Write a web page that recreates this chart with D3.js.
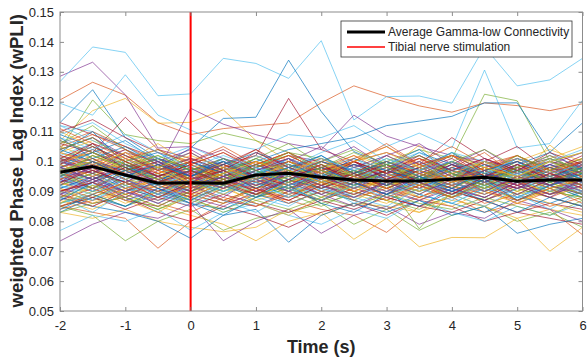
<!DOCTYPE html>
<html><head><meta charset="utf-8">
<script src="https://cdn.jsdelivr.net/npm/d3@7"></script>
<style>body{margin:0;background:#fff}svg{display:block}</style>
</head><body>
<svg id="chart" width="587" height="359"></svg>
<script>
// Time axis (seconds relative to stimulation)
const timeSec = [-2,-1.5,-1,-0.5,0,0.5,1,1.5,2,2.5,3,3.5,4,4.5,5,5.5,6];
const xTickValues = [-2,-1,0,1,2,3,4,5,6];
const xTickLabels = ["-2","-1","0","1","2","3","4","5","6"];
const yTickValues = [0.05,0.06,0.07,0.08,0.09,0.1,0.11,0.12,0.13,0.14,0.15];
const yTickLabels = ["0.05","0.06","0.07","0.08","0.09","0.1","0.11","0.12","0.13","0.14","0.15"];
const stimulationTime = 0;
const legendLabels = ["Average Gamma-low Connectivity","Tibial nerve stimulation"];

// Grand average across channel pairs
const averageWpli = [.0964,.0983,.0955,.0927,.0929,.0927,.0955,.0961,.0947,.0938,.0935,.0935,.0941,.0947,.0934,.0938,.0938];

// Per-pair wPLI time courses
const pairSet1 = [
 [.113,.124,.108,.101,.097,.099,.095,.101,.093,.096,.099,.094,.091,.097,.095,.092,.098],
 [.1206,.1265,.1222,.113,.109,.111,.112,.1129,.1196,.1253,.1217,.1186,.1165,.1196,.1187,.117,.1193],
 [.107,.117,.1211,.1128,.1131,.1173,.107,.1,.097,.099,.095,.098,.094,.097,.1,.104,.1],
 [.1285,.1332,.1223,.1045,.105,.101,.098,.102,.1,.096,.099,.094,.097,.095,.098,.093,.096],
 [.104,.1206,.109,.107,.106,.1095,.107,.103,.101,.098,.1,.104,.101,.1225,.1203,.1,.103],
 [.1267,.1383,.1365,.122,.1226,.1345,.1328,.1278,.1404,.1139,.1217,.1219,.1195,.1383,.1253,.1273,.1345],
 [.1,.103,.1148,.104,.101,.099,.102,.1211,.104,.1,.103,.099,.108,.101,.097,.1,.098],
 [.101,.099,.097,.098,.1045,.1144,.1148,.1339,.1167,.1033,.099,.096,.1,.095,.097,.094,.096],
 [.085,.083,.081,.071,.08,.086,.089,.087,.084,.082,.0763,.085,.088,.083,.086,.084,.0755],
 [.09,.087,.089,.085,.082,.079,.0735,.08,.083,.074,.081,.0715,.0746,.0745,.081,.07,.078],
 [.088,.085,.09,.097,.1178,.1125,.109,.106,.104,.1155,.1085,.105,.102,.1,.098,.101,.097],
 [.085,.082,.0735,.08,.084,.077,.081,.083,.086,.079,.084,.077,.082,.085,.08,.083,.078],
 [.1195,.1155,.129,.1155,.1105,.106,.104,.109,.108,.112,.105,.1095,.1045,.1306,.1045,.106,.1205],
 [.089,.086,.088,.083,.08,.085,.082,.078,.083,.086,.082,.087,.085,.08,.083,.081,.079]
];
const pairSet2 = [
 [.095,.097,.093,.096,.092,.098,.1,.104,.106,.108,.112,.1135,.1151,.1196,.1196,.1031,.1129],
 [.101,.097,.099,.094,.097,.092,.095,.098,.093,.097,.094,.099,.096,.092,.095,.098,.094],
 [.083,.081,.084,.08,.078,.0765,.078,.084,.082,.086,.085,.083,.087,.085,.081,.084,.082],
 [.0734,.079,.083,.081,.086,.0735,.08,.084,.076,.082,.085,.079,.083,.081,.087,.084,.08],
 [.097,.1,.095,.099,.093,.096,.091,.094,.098,.095,.09,.093,.097,.094,.099,.095,.092],
 [.0769,.082,.08,.084,.077,.083,.086,.082,.079,.084,.081,.087,.083,.08,.085,.082,.086],
 [.104,.108,.101,.097,.1,.095,.099,.103,.098,.096,.1,.097,.102,.099,.095,.098,.1],
 [.088,.085,.083,.08,.0743,.082,.084,.073,.082,.086,.083,.087,.082,.085,.076,.079,.081],
 [.093,.09,.094,.089,.092,.095,.09,.088,.093,.091,.095,.092,.089,.094,.091,.088,.092],
 [.098,.094,.097,.092,.095,.099,.094,.091,.096,.093,.097,.1055,.095,.098,.094,.1055,.097],
 [.091,.095,.089,.093,.096,.091,.094,.09,.087,.092,.089,.093,.09,.095,.092,.089,.093],
 [.086,.089,.085,.09,.087,.084,.088,.091,.086,.089,.093,.0775,.09,.087,.091,.088,.085],
 [.112,.11,.104,.1,.097,.101,.095,.098,.094,.099,.095,.093,.097,.094,.091,.096,.093],
 [.094,.098,.092,.095,.091,.096,.093,.09,.095,.092,.096,.094,.099,.093,.096,.092,.095]
];
const pairSet3 = [
 [.1,.104,.098,.094,.097,.092,.096,.099,.093,.097,.091,.095,.092,.097,.088,.093,.096],
 [.09,.093,.088,.092,.089,.094,.09,.087,.092,.089,.093,.09,.095,.091,.094,.089,.092],
 [.096,.1,.094,.091,.095,.098,.093,.096,.092,.095,.099,.094,.091,.096,.093,.098,.094],
 [.107,.103,.099,.095,.098,.094,.097,.101,.096,.099,.095,.098,.094,.1,.096,.093,.097],
 [.085,.088,.092,.087,.09,.093,.088,.091,.095,.09,.087,.091,.088,.093,.089,.092,.088],
 [.095,.091,.094,.098,.093,.089,.094,.097,.092,.088,.093,.09,.095,.092,.089,.094,.091],
 [.113,.109,.105,.101,.098,.095,.1,.097,.094,.098,.095,.092,.096,.099,.094,.097,.093],
 [.092,.096,.091,.088,.093,.09,.094,.091,.096,.093,.089,.094,.097,.092,.095,.091,.094],
 [.098,.102,.097,.1,.094,.097,.093,.096,.1,.095,.098,.093,.096,.092,.097,.095,.099],
 [.087,.084,.089,.093,.088,.091,.087,.09,.093,.089,.086,.091,.088,.092,.087,.09,.088],
 [.104,.108,.102,.098,.101,.096,.099,.095,.098,.094,.097,.1,.095,.098,.101,.096,.099],
 [.093,.097,.092,.096,.09,.094,.097,.093,.089,.094,.091,.095,.092,.088,.093,.097,.092],
 [.089,.092,.087,.09,.094,.089,.093,.088,.091,.087,.092,.089,.086,.091,.088,.092,.089],
 [.099,.095,.099,.096,.093,.098,.094,.097,.093,.096,.1,.096,.093,.097,.094,.099,.095]
];
const pairSet4 = [
 [.094,.09,.095,.092,.088,.093,.097,.092,.095,.091,.094,.09,.093,.089,.094,.092,.088],
 [.106,.11,.105,.1,.096,.099,.094,.098,.095,.1,.096,.093,.098,.095,.1,.096,.094],
 [.088,.091,.086,.09,.093,.087,.091,.095,.09,.087,.092,.088,.085,.09,.094,.089,.091],
 [.097,.094,.098,.093,.096,.1,.095,.092,.097,.094,.098,.095,.1,.096,.092,.097,.095],
 [.101,.105,.099,.095,.098,.094,.099,.102,.097,.094,.099,.096,.093,.098,.095,.1,.097],
 [.09,.087,.092,.088,.091,.095,.089,.093,.088,.092,.095,.091,.088,.093,.096,.09,.094],
 [.096,.093,.09,.095,.092,.097,.093,.095,.099,.094,.091,.096,.093,.097,.092,.095,.091],
 [.083,.088,.085,.089,.086,.084,.089,.086,.09,.087,.084,.089,.086,.083,.088,.086,.09],
 [.103,.1,.104,.097,.094,.098,.102,.097,.094,.099,.096,.101,.097,.094,.098,.1,.096],
 [.092,.095,.091,.094,.09,.093,.089,.092,.087,.091,.094,.088,.092,.095,.09,.093,.089],
 [.098,.096,.101,.095,.092,.097,.094,.099,.096,.092,.097,.094,.099,.096,.093,.097,.098],
 [.086,.09,.088,.084,.089,.086,.092,.089,.085,.09,.087,.084,.089,.092,.087,.091,.087],
 [.1,.098,.095,.099,.095,.1,.097,.093,.098,.101,.095,.099,.096,.091,.096,.094,.099],
 [.095,.099,.094,.09,.095,.092,.089,.094,.091,.095,.092,.097,.093,.09,.095,.091,.094]
];
const pairSet5 = [
 [.109,.105,.1,.103,.097,.093,.098,.095,.099,.093,.097,.094,.098,.095,.1,.094,.096],
 [.091,.088,.093,.09,.086,.091,.094,.089,.092,.096,.091,.088,.093,.09,.087,.092,.095],
 [.095,.099,.096,.093,.098,.095,.092,.097,.093,.09,.095,.099,.094,.097,.093,.09,.095],
 [.088,.094,.09,.087,.092,.088,.095,.091,.087,.093,.089,.093,.09,.087,.091,.094,.089],
 [.093,.096,.1,.094,.091,.097,.093,.09,.096,.092,.097,.093,.1,.094,.09,.095,.092],
 [.102,.106,.098,.101,.097,.1,.096,.099,.095,.098,.102,.097,.094,.099,.097,.093,.098],
 [.087,.091,.087,.085,.09,.087,.085,.09,.087,.091,.088,.085,.09,.087,.092,.088,.085],
 [.099,.103,.098,.095,.1,.096,.101,.096,.093,.097,.094,.098,.094,.099,.096,.1,.096],
 [.084,.087,.091,.086,.083,.088,.085,.089,.093,.087,.084,.088,.092,.086,.089,.085,.088],
 [.105,.101,.097,.1,.095,.098,.094,.1,.097,.102,.098,.095,.1,.097,.093,.098,.101],
 [.094,.091,.096,.093,.089,.094,.091,.096,.092,.089,.093,.097,.092,.095,.091,.094,.09],
 [.097,.101,.095,.098,.094,.092,.097,.094,.098,.093,.096,.092,.095,.1,.097,.093,.096],
 [.091,.094,.099,.092,.096,.09,.093,.098,.09,.094,.098,.091,.095,.093,.098,.092,.09],
 [.1,.096,.093,.098,.095,.1,.095,.092,.097,.1,.094,.097,.101,.095,.099,.096,.1]
];
const pairSet6 = [
 [.097,.1,.094,.098,.092,.095,.099,.094,.091,.096,.092,.097,.094,.091,.097,.093,.1],
 [.089,.085,.09,.094,.089,.086,.091,.088,.094,.09,.087,.092,.088,.091,.086,.09,.093],
 [.103,.107,.102,.098,.101,.097,.093,.098,.1,.096,.1,.097,.093,.097,.101,.096,.093],
 [.095,.091,.097,.093,.1,.096,.093,.097,.094,.099,.095,.091,.096,.093,.097,.094,.098],
 [.092,.096,.093,.089,.094,.098,.092,.095,.091,.096,.092,.095,.091,.096,.093,.089,.094],
 [.086,.089,.094,.09,.086,.092,.088,.085,.091,.088,.093,.089,.086,.091,.088,.092,.089],
 [.106,.103,.098,.101,.095,.099,.095,.1,.096,.093,.097,.101,.096,.093,.098,.095,.099],
 [.098,.094,.098,.094,.097,.093,.096,.093,.097,.092,.096,.093,.099,.096,.093,.097,.093],
 [.09,.093,.089,.092,.088,.093,.091,.094,.09,.088,.091,.087,.092,.089,.093,.095,.09],
 [.101,.097,.102,.097,.093,.096,.1,.095,.099,.096,.093,.1,.096,.094,.099,.095,.098],
 [.093,.098,.091,.095,.098,.092,.096,.09,.095,.091,.096,.092,.097,.093,.091,.096,.093],
 [.083,.086,.088,.084,.088,.083,.087,.084,.088,.085,.089,.086,.084,.088,.085,.082,.087],
 [.096,.092,.096,.1,.095,.091,.094,.098,.094,.091,.096,.093,.097,.093,.096,.092,.097],
 [.11,.114,.108,.103,.1,.104,.098,.101,.097,.1,.096,.099,.102,.097,.1,.096,.099]
];
const pairSet7 = [
 [.091,.095,.09,.093,.09,.095,.098,.092,.096,.093,.097,.094,.09,.094,.097,.092,.095],
 [.099,.104,.1,.096,.1,.095,.098,.102,.097,.094,.098,.101,.097,.1,.096,.101,.097],
 [.093,.089,.093,.096,.091,.094,.09,.093,.096,.091,.094,.09,.094,.091,.095,.091,.095],
 [.102,.099,.104,.099,.096,.094,.099,.096,.1,.097,.093,.098,.094,.098,.095,.099,.096],
 [.088,.092,.089,.085,.09,.094,.089,.092,.088,.093,.089,.092,.096,.09,.094,.09,.088],
 [.097,.093,.099,.095,.092,.097,.094,.09,.095,.098,.094,.096,.092,.097,.094,.097,.092],
 [.085,.088,.084,.088,.085,.089,.086,.083,.087,.084,.088,.085,.083,.087,.083,.086,.084],
 [.104,.1,.097,.101,.097,.1,.096,.099,.095,.099,.097,.094,.098,.094,.097,.093,.098],
 [.094,.097,.093,.09,.094,.091,.095,.091,.094,.09,.094,.098,.093,.096,.092,.096,.091],
 [.1,.103,.097,.094,.099,.096,.092,.097,.093,.097,.093,.096,.093,.097,.093,.098,.094],
 [.089,.093,.087,.091,.088,.085,.09,.093,.089,.093,.09,.087,.091,.088,.093,.089,.092],
 [.096,.1,.095,.093,.097,.092,.096,.1,.094,.097,.099,.094,.097,.093,.097,.094,.096],
 [.092,.089,.094,.089,.085,.09,.093,.088,.092,.086,.09,.094,.089,.092,.094,.09,.093],
 [.098,.101,.096,.099,.094,.097,.1,.095,.098,.095,.092,.097,.1,.096,.093,.098,.095]
];
const pairSet8 = [
 [.103,.11,.099,.093,.1,.096,.091,.097,.102,.095,.099,.104,.096,.093,.099,.103,.097],
 [.097,.091,.1,.095,.09,.098,.104,.096,.092,.1,.096,.091,.098,.103,.095,.092,.099],
 [.11,.105,.1,.106,.099,.094,.1,.097,.093,.1,.105,.098,.094,.1,.096,.101,.105],
 [.092,.099,.094,.089,.097,.101,.094,.09,.098,.093,.089,.096,.1,.093,.099,.094,.09],
 [.106,.112,.104,.098,.103,.097,.101,.106,.099,.095,.101,.097,.103,.098,.094,.1,.096],
 [.088,.083,.09,.086,.092,.087,.083,.089,.094,.088,.085,.091,.087,.093,.089,.084,.09],
 [.099,.106,.097,.1,.093,.099,.104,.098,.101,.096,.102,.097,.093,.1,.105,.097,.102],
 [.108,.101,.105,.099,.095,.101,.097,.093,.1,.097,.092,.098,.103,.096,.093,.099,.094],
 [.094,.1,.096,.091,.096,.093,.099,.103,.095,.1,.106,.099,.094,.098,.102,.096,.1],
 [.086,.092,.087,.083,.089,.092,.086,.082,.088,.092,.087,.083,.089,.085,.09,.086,.083],
 [.101,.096,.103,.1,.104,.098,.094,.1,.105,.098,.102,.106,.099,.104,.097,.102,.098],
 [.095,.102,.098,.094,.09,.096,.101,.097,.092,.097,.093,.089,.095,.091,.097,.093,.098],
 [.112,.107,.102,.097,.101,.097,.102,.098,.103,.107,.1,.097,.103,.1,.095,.1,.104],
 [.09,.094,.099,.095,.099,.094,.09,.096,.091,.095,.099,.093,.089,.094,.098,.092,.089]
];
const pairSet9 = [
 [.098,.103,.107,.1,.095,.099,.103,.099,.095,.101,.097,.103,.099,.095,.101,.098,.094],
 [.105,.109,.104,.099,.094,.1,.096,.092,.098,.094,.1,.096,.092,.097,.102,.097,.101],
 [.091,.086,.091,.094,.087,.092,.088,.093,.097,.09,.094,.09,.095,.09,.086,.091,.094],
 [.1,.097,.093,.099,.103,.097,.092,.096,.1,.105,.098,.102,.097,.101,.096,.099,.103],
 [.096,.091,.097,.101,.094,.09,.095,.091,.087,.092,.097,.093,.088,.094,.098,.093,.089],
 [.109,.113,.106,.101,.105,.1,.096,.101,.097,.094,.099,.103,.097,.1,.095,.101,.097],
 [.093,.097,.093,.088,.093,.097,.091,.087,.092,.096,.091,.095,.099,.094,.089,.094,.097],
 [.084,.089,.085,.091,.086,.082,.088,.092,.086,.083,.089,.085,.091,.087,.083,.088,.085],
 [.102,.098,.103,.096,.1,.105,.099,.103,.098,.102,.096,.1,.105,.099,.102,.097,.1],
 [.097,.1,.094,.098,.093,.089,.095,.099,.094,.091,.096,.092,.096,.1,.094,.097,.092],
 [.089,.095,.09,.086,.091,.095,.09,.094,.089,.085,.09,.095,.091,.088,.093,.089,.094],
 [.104,.108,.1,.104,.098,.094,.099,.095,.1,.104,.099,.095,.1,.096,.102,.097,.101],
 [.095,.09,.096,.092,.087,.093,.098,.092,.096,.091,.096,.1,.093,.09,.096,.1,.094],
 [.1,.105,.1,.095,.099,.103,.097,.1,.096,.1,.094,.098,.102,.095,.099,.094,.1]
];
const pairSet10 = [
 [.087,.093,.097,.091,.087,.092,.088,.094,.098,.093,.089,.095,.09,.094,.087,.092,.096],
 [.111,.106,.101,.104,.099,.103,.098,.102,.097,.101,.105,.099,.102,.097,.101,.096,.1],
 [.099,.095,.101,.097,.092,.096,.1,.096,.101,.095,.091,.097,.093,.098,.095,.1,.095],
 [.093,.1,.095,.1,.095,.091,.097,.101,.095,.091,.096,.1,.095,.09,.095,.092,.097],
 [.107,.103,.099,.102,.097,.101,.097,.093,.098,.103,.098,.094,.1,.104,.098,.101,.097],
 [.092,.087,.093,.089,.094,.09,.095,.091,.087,.092,.088,.093,.089,.085,.091,.095,.09],
 [.101,.106,.102,.097,.101,.097,.103,.098,.094,.1,.096,.102,.097,.101,.097,.103,.099],
 [.095,.1,.095,.099,.095,.1,.094,.098,.102,.096,.1,.095,.091,.097,.1,.095,.098],
 [.085,.089,.093,.088,.092,.087,.091,.086,.09,.094,.088,.092,.088,.093,.087,.091,.086],
 [.103,.099,.103,.098,.102,.098,.094,.1,.096,.1,.103,.098,.102,.098,.095,.1,.103],
 [.098,.094,.088,.094,.09,.095,.092,.096,.092,.088,.093,.089,.094,.097,.092,.088,.094],
 [.096,.102,.098,.102,.097,.093,.098,.103,.097,.093,.099,.102,.096,.092,.098,.102,.096],
 [.108,.104,.109,.103,.098,.102,.098,.095,.101,.097,.101,.097,.1,.096,.101,.096,.099],
 [.09,.093,.098,.093,.097,.093,.089,.094,.099,.093,.097,.093,.089,.095,.091,.096,.092]
];

const pairSeries = [].concat(pairSet1, pairSet2, pairSet3, pairSet4, pairSet5,
                             pairSet6, pairSet7, pairSet8, pairSet9, pairSet10);

// Default line colour order, cycled per series
const colorOrder = ["#0072BD","#D95319","#EDB120","#7E2F8E","#77AC30","#4DBEEE","#A2142F"];

const svg = d3.select("#chart");
const plotLeft = 60, plotRight = 582.5, plotTop = 12, plotBottom = 311;
const x = d3.scaleLinear().domain([-2, 6]).range([plotLeft, plotRight]);
const y = d3.scaleLinear().domain([0.05, 0.15]).range([plotBottom, plotTop]);
const font = "'Liberation Sans', Arial, Helvetica, sans-serif";
const axisGrey = "#8c8c8c";
const textCol = "#262626";

// Channel-pair traces
const line = d3.line().x((d, i) => x(timeSec[i])).y(d => y(d));
svg.append("g").selectAll("path").data(pairSeries).join("path")
  .attr("d", line)
  .attr("fill", "none")
  .attr("stroke", (d, i) => colorOrder[i % colorOrder.length])
  .attr("stroke-width", 0.85)
  .attr("stroke-opacity", 0.8)
  .attr("stroke-linejoin", "miter");

// Average trace
svg.append("path").datum(averageWpli)
  .attr("d", line)
  .attr("fill", "none")
  .attr("stroke", "#000")
  .attr("stroke-width", 3)
  .attr("stroke-linejoin", "round");

// Stimulation marker
svg.append("line")
  .attr("x1", x(stimulationTime)).attr("x2", x(stimulationTime))
  .attr("y1", y(0.05)).attr("y2", y(0.15))
  .attr("stroke", "#ff0000").attr("stroke-width", 2);

// Axes (ticks pointing inward, box on all sides)
function styleAxis(g) {
  g.select(".domain").remove();
  g.selectAll(".tick line").attr("stroke", axisGrey);
  g.selectAll(".tick text").attr("fill", textCol).attr("font-family", font).attr("font-size", 13);
}
svg.append("g").attr("transform", `translate(0,${plotBottom})`)
  .call(d3.axisBottom(x).tickValues(xTickValues).tickFormat((d, i) => xTickLabels[i]).tickSizeInner(-4).tickSizeOuter(0).tickPadding(10))
  .call(styleAxis);
svg.append("g").attr("transform", `translate(0,${plotTop})`)
  .call(d3.axisTop(x).tickValues(xTickValues).tickFormat("").tickSizeInner(-4).tickSizeOuter(0))
  .call(styleAxis);
svg.append("g").attr("transform", `translate(${plotLeft},0)`)
  .call(d3.axisLeft(y).tickValues(yTickValues).tickFormat((d, i) => yTickLabels[i]).tickSizeInner(-4).tickSizeOuter(0).tickPadding(6))
  .call(styleAxis);
svg.append("g").attr("transform", `translate(${plotRight},0)`)
  .call(d3.axisRight(y).tickValues(yTickValues).tickFormat("").tickSizeInner(-4).tickSizeOuter(0))
  .call(styleAxis);
svg.append("rect")
  .attr("x", plotLeft).attr("y", plotTop).attr("width", plotRight - plotLeft).attr("height", plotBottom - plotTop)
  .attr("fill", "none").attr("stroke", axisGrey).attr("stroke-width", 1);

// Axis titles
svg.append("text")
  .attr("x", (plotLeft + plotRight) / 2).attr("y", 353)
  .attr("text-anchor", "middle")
  .attr("font-family", font).attr("font-size", 18).attr("font-weight", "bold")
  .attr("fill", textCol).text("Time (s)");
svg.append("text")
  .attr("transform", `translate(23,160.7) rotate(-90)`)
  .attr("text-anchor", "middle")
  .attr("font-family", font).attr("font-size", 18.6).attr("font-weight", "bold")
  .attr("fill", textCol).text("weighted Phase Lag Index (wPLI)");

// Legend
const legend = svg.append("g");
legend.append("rect")
  .attr("x", 341).attr("y", 21).attr("width", 231).attr("height", 36)
  .attr("fill", "#fff").attr("stroke", "#333").attr("stroke-width", 0.8);
const legendItems = [
  {label: legendLabels[0], color: "#000", width: 3},
  {label: legendLabels[1], color: "#ff0000", width: 1.6}
];
legendItems.forEach((it, i) => {
  const ly = 32 + i * 15;
  legend.append("line").attr("x1", 347).attr("x2", 385).attr("y1", ly).attr("y2", ly)
    .attr("stroke", it.color).attr("stroke-width", it.width);
  legend.append("text").attr("x", 388).attr("y", ly + 4.2)
    .attr("font-family", font).attr("font-size", 12).attr("fill", textCol).text(it.label);
});
</script>
</body></html>
